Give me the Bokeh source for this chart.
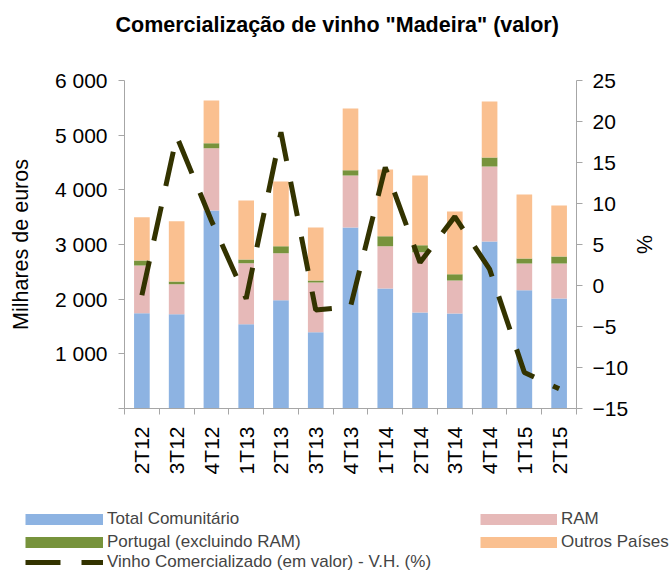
from math import pi
from bokeh.plotting import figure
from bokeh.models import (ColumnDataSource, Range1d, LinearAxis, FixedTicker,
                          Legend, LegendItem)
from bokeh.embed import file_html
from bokeh.resources import INLINE

# ---------------- data ----------------
categories = ["2T12", "3T12", "4T12", "1T13", "2T13", "3T13", "4T13",
              "1T14", "2T14", "3T14", "4T14", "1T15", "2T15"]
total_comunitario = [1744, 1726, 3622, 1543, 1982, 1396, 3311, 2195, 1756, 1738, 3055, 2165, 2012]
ram = [872, 548, 1140, 1116, 860, 909, 951, 775, 1104, 603, 1372, 487, 640]
portugal = [91, 49, 92, 67, 128, 36, 98, 182, 128, 116, 164, 92, 128]
outros_paises = [793, 1104, 780, 1079, 1182, 970, 1128, 1220, 1274, 1147, 1025, 1171, 933]
vh_percent = [-1.2, 18.2, 7.9, -1.6, 18.7, -3.0, -2.6, 14.4, 2.8, 8.4, 2.0, -10.6, -12.6]

left_ticks = [0, 1000, 2000, 3000, 4000, 5000, 6000]
left_tick_labels = ["", "1 000", "2 000", "3 000", "4 000", "5 000", "6 000"]
right_ticks = [-15, -10, -5, 0, 5, 10, 15, 20, 25]

title_text = 'Comercialização de vinho "Madeira" (valor)'
series_names = ["Total Comunitário", "RAM", "Portugal (excluindo RAM)", "Outros Países"]
line_name = "Vinho Comercializado (em valor) - V.H. (%)"
colors = ["#8db3e2", "#e6b9b8", "#77933c", "#fac090"]
line_color = "#333300"

FONT = "Liberation Sans"
AXIS_COLOR = "#a6a6a6"
W = 671

n = len(categories)
xs = [i + 0.5 for i in range(n)]

src = ColumnDataSource(dict(x=xs, tc=total_comunitario, ram=ram, pt=portugal,
                            out=outros_paises, vh=vh_percent))

# ---------------- title strip ----------------
pt_ = figure(width=W, height=50, x_range=Range1d(0, 1), y_range=Range1d(0, 1),
             output_backend="svg", toolbar_location=None,
             x_axis_location=None, y_axis_location=None,
             min_border=0, outline_line_color=None)
pt_.xgrid.visible = False
pt_.ygrid.visible = False
pt_.title.text = title_text
pt_.title.text_font = FONT
pt_.title.text_font_size = "21.5px"
pt_.title.text_font_style = "bold"
pt_.title.text_color = "black"
pt_.title.align = "left"
pt_.title.offset = 115
pt_.title.standoff = 21

# ---------------- main chart ----------------
p = figure(width=W, height=442, x_range=Range1d(0, n), y_range=Range1d(0, 6000),
           output_backend="svg", toolbar_location=None,
           min_border_left=124, min_border_right=95, min_border_top=30,
           min_border_bottom=84)
p.extra_y_ranges = {"pct": Range1d(-15, 25)}
p.xgrid.visible = False
p.ygrid.visible = False
p.outline_line_color = None

bars = p.vbar_stack(["tc", "ram", "pt", "out"], x="x", width=0.45, color=colors,
                    line_color=None, source=src)
p.line("x", "vh", source=src, y_range_name="pct", line_color=line_color,
       line_width=5, line_dash="35 21")

# x axis
xa = p.xaxis[0]
xa.ticker = FixedTicker(ticks=xs, minor_ticks=list(range(n + 1)))
xa.major_label_overrides = {x: c for x, c in zip(xs, categories)}
xa.major_label_orientation = pi / 2
xa.major_tick_out = 0
xa.major_tick_in = 0
xa.minor_tick_line_color = AXIS_COLOR
xa.minor_tick_out = 6
xa.minor_tick_in = 0
xa.major_label_standoff = 12

# left axis
ya = p.yaxis[0]
ya.ticker = FixedTicker(ticks=left_ticks)
ya.major_label_overrides = {t: l for t, l in zip(left_ticks, left_tick_labels)}
ya.axis_label = "Milhares de euros"
ya.axis_label_standoff = 19
ya.major_tick_out = 6
ya.major_tick_in = 0
ya.major_label_standoff = 11
ya.minor_tick_line_color = None

# right axis
ra = LinearAxis(y_range_name="pct", ticker=FixedTicker(ticks=right_ticks), axis_label="%")
ra.major_tick_out = 6
ra.major_tick_in = 0
ra.major_label_standoff = 10
ra.axis_label_standoff = 1
ra.minor_tick_line_color = None
p.add_layout(ra, "right")

for ax in [xa, ya, ra]:
    ax.axis_line_color = AXIS_COLOR
    ax.major_tick_line_color = AXIS_COLOR if ax is not xa else None
    ax.major_label_text_font = FONT
    ax.major_label_text_font_size = "21px"
    ax.major_label_text_color = "black"
    ax.axis_label_text_font = FONT
    ax.axis_label_text_font_size = "21.5px"
    ax.axis_label_text_font_style = "normal"
    ax.axis_label_text_color = "black"

# ---------------- legend strip ----------------
LH = 80
pl = figure(width=W, height=LH, x_range=Range1d(0, W), y_range=Range1d(0, LH),
            output_backend="svg", toolbar_location=None,
            x_axis_location=None, y_axis_location=None,
            min_border=0, outline_line_color=None)
pl.xgrid.visible = False
pl.ygrid.visible = False
# legend proxies: one segment each, outside the visible range
proxy = ColumnDataSource(dict(x=[-1000, -999], y=[0, 0]))
proxy_patches = [pl.line(x="x", y="y", source=proxy, line_color=c, line_width=11,
                         line_cap="butt") for c in colors]
proxy_line = pl.line(x="x", y="y", source=proxy, line_color=line_color,
                     line_width=5, line_dash="35 21")


def make_legend(items, loc, gw, standoff=4, spacing=3, lh=20):
    lg = Legend(items=items, location=loc, orientation="vertical",
                glyph_width=gw, glyph_height=12, label_standoff=standoff,
                spacing=spacing, padding=0, margin=0, border_line_color=None,
                background_fill_alpha=0, label_text_font=FONT,
                label_text_font_size="17px", label_height=lh)
    pl.add_layout(lg)
    return lg


make_legend([LegendItem(label=series_names[0], renderers=[proxy_patches[0]]),
             LegendItem(label=series_names[2], renderers=[proxy_patches[2]])],
            (25, 20), 78)
make_legend([LegendItem(label=series_names[1], renderers=[proxy_patches[1]]),
             LegendItem(label=series_names[3], renderers=[proxy_patches[3]])],
            (480, 20), 77)
make_legend([LegendItem(label=line_name, renderers=[proxy_line])],
            (25, 0), 78)

open("out.html", "w").write(file_html([pt_, p, pl], INLINE))
